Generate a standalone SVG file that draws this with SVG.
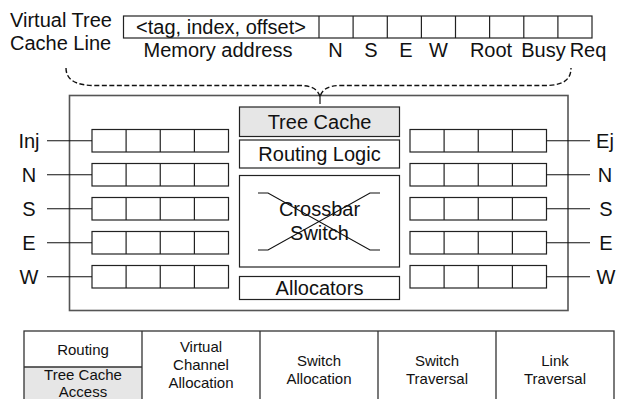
<svg xmlns="http://www.w3.org/2000/svg" width="620" height="399" viewBox="0 0 620 399">
  <style>
    text { font-family: "Liberation Sans", Arial, Helvetica, sans-serif; fill: #111; }
    .lg { font-size: 20px; }
    .sm { font-size: 15px; }
    .mid { text-anchor: middle; }
    .box { fill: #fff; stroke: #222; stroke-width: 1.2; }
    .shade { fill: #e6e6e6; stroke: #222; stroke-width: 1.2; }
    .cell { fill: none; stroke: #222; stroke-width: 1.2; }
    .wire { stroke: #111; stroke-width: 1.2; fill: none; }
    .brace { fill: none; stroke: #111; stroke-width: 1.4; stroke-dasharray: 5 2.5; }
    .frame { fill: #fff; stroke: #555; stroke-width: 1.6; }
    .tbl { fill: none; stroke: #333; stroke-width: 1.3; }
  </style>
  <defs>
    <!-- one four-slot virtual channel buffer -->
    <g id="buf">
      <rect class="box" x="0" y="0" width="136.5" height="22.5"/>
      <path class="cell" d="M34.1,0V22.5M68.25,0V22.5M102.4,0V22.5"/>
    </g>
  </defs>

  <!-- virtual tree cache line -->
  <g id="cache-line">
    <text class="lg" x="10" y="27">Virtual Tree</text>
    <text class="lg" x="10" y="50">Cache Line</text>
    <rect class="box" x="123.5" y="16" width="468.5" height="22"/>
    <path class="cell" d="M319,16V38M353.1,16V38M387.3,16V38M421.4,16V38M455.5,16V38M489.6,16V38M523.8,16V38M557.9,16V38"/>
    <text class="lg mid" x="221" y="34">&lt;tag, index, offset&gt;</text>
    <text class="lg mid" x="218" y="57">Memory address</text>
    <text class="lg mid" x="335.5" y="57">N</text>
    <text class="lg mid" x="371" y="57">S</text>
    <text class="lg mid" x="406" y="57">E</text>
    <text class="lg mid" x="438.5" y="57">W</text>
    <text class="lg mid" x="491" y="57">Root</text>
    <text class="lg mid" x="543.5" y="57">Busy</text>
    <text class="lg mid" x="588" y="57">Req</text>
  </g>

  <!-- router outline -->
  <g id="router">
    <rect class="frame" x="69.5" y="95.5" width="498.5" height="215"/>
  </g>

  <!-- input buffers -->
  <g id="inputs">
    <use href="#buf" x="92" y="129.5"/>
    <use href="#buf" x="92" y="163.5"/>
    <use href="#buf" x="92" y="197.5"/>
    <use href="#buf" x="92" y="231.5"/>
    <use href="#buf" x="92" y="265.5"/>
    <text class="lg mid" x="29" y="148">Inj</text>
    <text class="lg mid" x="29" y="182">N</text>
    <text class="lg mid" x="29" y="216">S</text>
    <text class="lg mid" x="29" y="250">E</text>
    <text class="lg mid" x="29" y="284">W</text>
  </g>

  <!-- output buffers -->
  <g id="outputs">
    <use href="#buf" x="410" y="129.5"/>
    <use href="#buf" x="410" y="163.5"/>
    <use href="#buf" x="410" y="197.5"/>
    <use href="#buf" x="410" y="231.5"/>
    <use href="#buf" x="410" y="265.5"/>
    <text class="lg mid" x="605" y="148">Ej</text>
    <text class="lg mid" x="605" y="182">N</text>
    <text class="lg mid" x="606" y="216">S</text>
    <text class="lg mid" x="606" y="250">E</text>
    <text class="lg mid" x="606" y="284">W</text>
  </g>

  <g id="tree-cache">
    <rect class="shade" x="239.5" y="107" width="160" height="29.5"/>
    <text class="lg mid" x="319.5" y="129">Tree Cache</text>
  </g>
  <g id="routing-logic">
    <rect class="box" x="239.5" y="140" width="160" height="28"/>
    <text class="lg mid" x="319.5" y="161">Routing Logic</text>
  </g>
  <g id="crossbar">
    <rect class="box" x="239.5" y="175.5" width="160" height="91.5"/>
    <path class="wire" d="M258,193H268L370,250H380M258,250H268L370,193H380"/>
    <text class="lg mid" x="319.5" y="216">Crossbar</text>
    <text class="lg mid" x="319.5" y="240">Switch</text>
  </g>
  <g id="allocators">
    <rect class="box" x="239.5" y="276.5" width="160" height="23"/>
    <text class="lg mid" x="319.5" y="295">Allocators</text>
  </g>

  <!-- port links and the brace tying the cache line to the tree cache -->
  <g id="connectors">
    <path class="wire" d="M47,140.75H92M47,174.75H92M47,208.75H92M47,242.75H92M47,276.75H92"/>
    <path class="wire" d="M546.5,140.75H590M546.5,174.75H590M546.5,208.75H590M546.5,242.75H590M546.5,276.75H590"/>
    <path class="brace" d="M66,68C66,80 76,85.5 95,85.5L300,85.5C311,85.5 318,89 320,97C322,89 329,85.5 340,85.5L545,85.5C563,85.5 571,80 571,68"/>
    <path class="wire" d="M320,95V104"/>
  </g>

  <!-- pipeline stages -->
  <g id="pipeline">
    <rect x="24" y="367" width="118" height="40" fill="#e6e6e6"/>
    <rect class="tbl" x="24" y="331" width="590" height="80"/>
    <path class="tbl" d="M142,331V400M260,331V400M378,331V400M496,331V400M24,367H142"/>
    <text class="sm mid" x="83" y="355">Routing</text>
    <text class="sm mid" x="83" y="380">Tree Cache</text>
    <text class="sm mid" x="83" y="397">Access</text>
    <text class="sm mid" x="201" y="352">Virtual</text>
    <text class="sm mid" x="201" y="370">Channel</text>
    <text class="sm mid" x="201" y="388">Allocation</text>
    <text class="sm mid" x="319" y="366">Switch</text>
    <text class="sm mid" x="319" y="384">Allocation</text>
    <text class="sm mid" x="437" y="366">Switch</text>
    <text class="sm mid" x="437" y="384">Traversal</text>
    <text class="sm mid" x="555" y="366">Link</text>
    <text class="sm mid" x="555" y="384">Traversal</text>
  </g>
</svg>
